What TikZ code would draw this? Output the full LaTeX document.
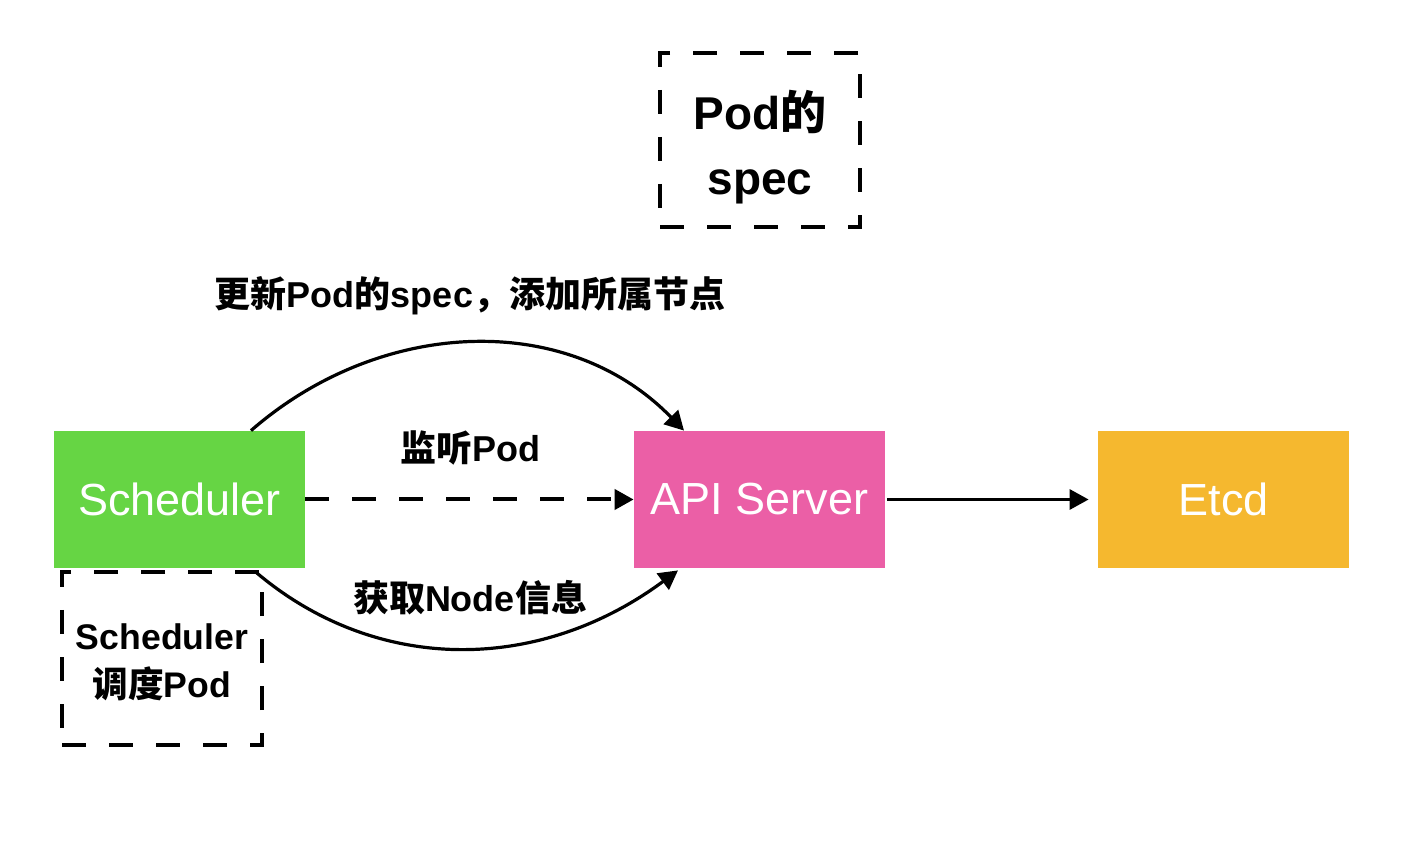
\documentclass[tikz,border=0pt]{standalone}
\usepackage{fontspec}
\setmainfont{Liberation Sans}
\newfontfamily\cjk{Noto Sans CJK SC}
\usetikzlibrary{arrows.meta,calc}
\definecolor{schedgreen}{HTML}{66D544}
\definecolor{apipink}{HTML}{EB5FA6}
\definecolor{etcdorange}{HTML}{F5B82F}
\begin{document}
\begin{tikzpicture}[x=0.5pt,y=-0.5pt,
  comp/.style={minimum width=125.5pt,minimum height=68.5pt,inner sep=0pt,text=white,
    font=\fontsize{22.5pt}{27pt}\selectfont},
  notebox/.style={draw,line width=2pt,dash pattern=on 12pt off 11.5pt,inner sep=0pt},
  lbl/.style={font=\bfseries\fontsize{18pt}{22pt}\selectfont},
  conn/.style={line width=1.6pt,-{Triangle[length=9.5pt,width=10pt]}},
]
\useasboundingbox (0,0) rectangle (1428,854);
% components
\node[comp,fill=schedgreen] (sched) at (179.5,499.5) {Scheduler};
\node[comp,fill=apipink] (api) at (759.5,499.5) {API Server};
\node[comp,fill=etcdorange] (etcd) at (1223.5,499.5) {Etcd};
% dashed notes
\node[notebox,minimum width=100pt,minimum height=87pt] (spec) at (760,140) {};
\node[align=center,font=\bfseries\fontsize{23pt}{32.5pt}\selectfont] (spectext) at (760,147) {Pod{\cjk 的}\\spec};
\node[notebox,minimum width=100pt,minimum height=86.5pt] (note) at (162,658.5) {};
\node[align=center,font=\bfseries\fontsize{17.8pt}{24pt}\selectfont] (notetext) at (162,662) {Scheduler\\{\cjk 调度}Pod};
% labels
\node[lbl] (lup) at (470,296) {{\cjk 更新}Pod{\cjk 的}spec{\cjk ，添加所属节点}};
\node[lbl] (lmid) at (470,448) {{\cjk 监听}Pod};
\node[lbl] (ldown) at (470,598) {{\cjk 获取}Node{\cjk 信息}};
% connectors
\draw[conn,line width=2pt,dash pattern=on 12pt off 11.5pt] (sched.east) -- (api.west);
\draw[conn,shorten <=1pt,shorten >=4.5pt] (api.east) -- (etcd.west);
\coordinate (s1) at ($(sched.north)+(71.5,0)$);
\coordinate (a1) at ($(api.north)+(-75.5,0)$);
\coordinate (s2) at ($(sched.south)+(75.5,3)$);
\coordinate (a2) at ($(api.south)+(-81.5,2)$);
\draw[conn] (s1) .. controls (380,318) and (567,310) .. (a1);
\draw[conn] (s2) .. controls (375,674) and (538,674) .. (a2);
\end{tikzpicture}
\end{document}
